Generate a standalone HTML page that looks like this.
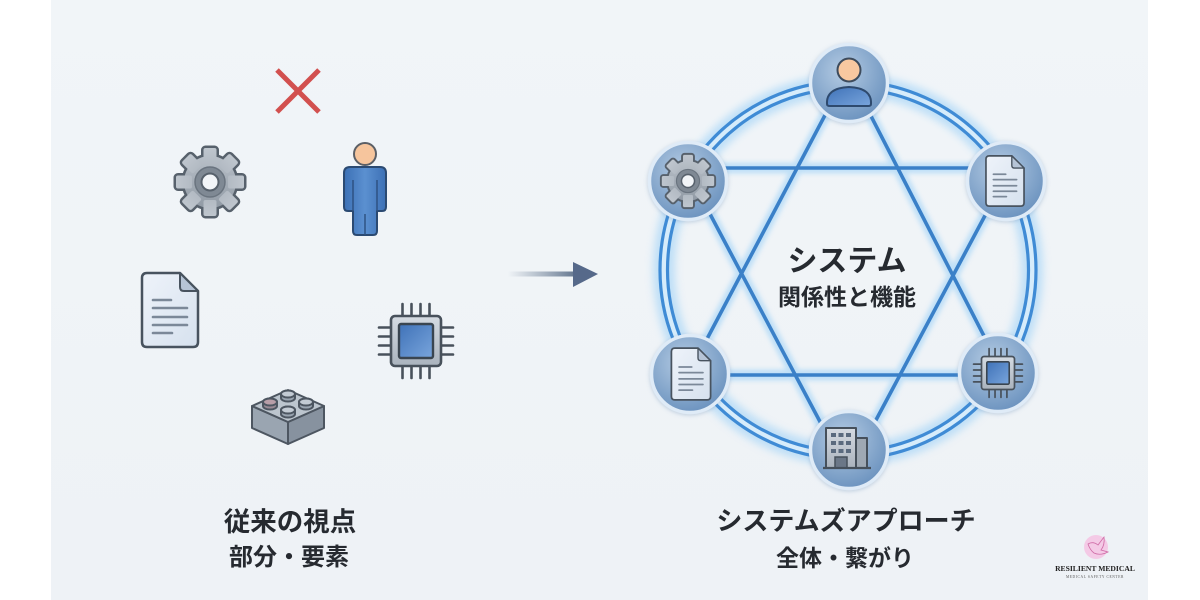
<!DOCTYPE html>
<html><head><meta charset="utf-8"><style>
html,body{margin:0;padding:0;background:#fff;}
svg{display:block;}
text{font-family:"Liberation Sans","Noto Sans CJK JP",sans-serif;}
</style></head><body>
<svg width="1200" height="600" viewBox="0 0 1200 600" xmlns="http://www.w3.org/2000/svg">
<defs>
  <linearGradient id="bg" x1="0" y1="0" x2="0" y2="1">
    <stop offset="0" stop-color="#f1f5f8"/><stop offset="1" stop-color="#eef2f6"/>
  </linearGradient>
  <radialGradient id="ng" cx="0.42" cy="0.35" r="0.7">
    <stop offset="0" stop-color="#b4cbe3"/><stop offset="1" stop-color="#6890bd"/>
  </radialGradient>
  <linearGradient id="gg" gradientUnits="userSpaceOnUse" x1="0" y1="-34" x2="0" y2="34">
    <stop offset="0" stop-color="#bfc6ce"/><stop offset="1" stop-color="#8a949f"/>
  </linearGradient>
  <linearGradient id="dg" x1="0" y1="0" x2="1" y2="1">
    <stop offset="0" stop-color="#eef3fa"/><stop offset="1" stop-color="#d6e1ee"/>
  </linearGradient>
  <linearGradient id="bl" x1="0" y1="0" x2="1" y2="1">
    <stop offset="0" stop-color="#3f72b8"/><stop offset="1" stop-color="#79a5dc"/>
  </linearGradient>
  <linearGradient id="pb" x1="0" y1="0" x2="1" y2="0">
    <stop offset="0" stop-color="#3c70b5"/><stop offset="0.5" stop-color="#5b90d0"/><stop offset="1" stop-color="#3c70b5"/>
  </linearGradient>
  <linearGradient id="ar" x1="508" y1="0" x2="580" y2="0" gradientUnits="userSpaceOnUse">
    <stop offset="0" stop-color="#6a7d94" stop-opacity="0"/><stop offset="1" stop-color="#5a6e88"/>
  </linearGradient>
  <linearGradient id="bd" x1="0" y1="0" x2="0" y2="1">
    <stop offset="0" stop-color="#d5dbe2"/><stop offset="1" stop-color="#aab3bd"/>
  </linearGradient>
  <filter id="blur4" x="-20%" y="-20%" width="140%" height="140%"><feGaussianBlur stdDeviation="4"/></filter>
  <filter id="blur2" x="-20%" y="-20%" width="140%" height="140%"><feGaussianBlur stdDeviation="2.5"/></filter>
  <filter id="ns" x="-30%" y="-30%" width="160%" height="160%">
    <feDropShadow dx="0" dy="1" stdDeviation="2" flood-color="#5d84b0" flood-opacity="0.35"/>
  </filter>

  <g id="gearI">
    <g fill="#57616c" stroke="#57616c" stroke-width="5" stroke-linejoin="round">
      <circle r="26"/>
      <rect x="-6.5" y="-34" width="13" height="16" rx="2"/>
      <rect x="-6.5" y="-34" width="13" height="16" rx="2" transform="rotate(45)"/>
      <rect x="-6.5" y="-34" width="13" height="16" rx="2" transform="rotate(90)"/>
      <rect x="-6.5" y="-34" width="13" height="16" rx="2" transform="rotate(135)"/>
      <rect x="-6.5" y="-34" width="13" height="16" rx="2" transform="rotate(180)"/>
      <rect x="-6.5" y="-34" width="13" height="16" rx="2" transform="rotate(225)"/>
      <rect x="-6.5" y="-34" width="13" height="16" rx="2" transform="rotate(270)"/>
      <rect x="-6.5" y="-34" width="13" height="16" rx="2" transform="rotate(315)"/>
    </g>
    <g fill="url(#gg)">
      <circle r="26"/>
      <rect x="-6.5" y="-34" width="13" height="16" rx="2"/>
      <rect x="-6.5" y="-34" width="13" height="16" rx="2" transform="rotate(45)"/>
      <rect x="-6.5" y="-34" width="13" height="16" rx="2" transform="rotate(90)"/>
      <rect x="-6.5" y="-34" width="13" height="16" rx="2" transform="rotate(135)"/>
      <rect x="-6.5" y="-34" width="13" height="16" rx="2" transform="rotate(180)"/>
      <rect x="-6.5" y="-34" width="13" height="16" rx="2" transform="rotate(225)"/>
      <rect x="-6.5" y="-34" width="13" height="16" rx="2" transform="rotate(270)"/>
      <rect x="-6.5" y="-34" width="13" height="16" rx="2" transform="rotate(315)"/>
    </g>
    <circle r="15" fill="#7f8994" stroke="#6a747f" stroke-width="1.5"/>
    <circle r="8.5" fill="#f2f5f8" stroke="#57616c" stroke-width="2"/>
  </g>

  <g id="docI">
    <path d="M -23 -37 H 10 L 28 -19 V 32 Q 28 37 23 37 H -23 Q -28 37 -28 32 V -32 Q -28 -37 -23 -37 Z" fill="url(#dg)" stroke="#48535f" stroke-width="2.5" stroke-linejoin="round"/>
    <path d="M 10 -37 V -23 Q 10 -19 14 -19 H 28 Z" fill="#b6c4d6" stroke="#48535f" stroke-width="2" stroke-linejoin="round"/>
    <g stroke="#7b8898" stroke-width="2.6" stroke-linecap="round">
      <line x1="-17" y1="-10" x2="1" y2="-10"/>
      <line x1="-17" y1="-2" x2="17" y2="-2"/>
      <line x1="-17" y1="7" x2="17" y2="7"/>
      <line x1="-17" y1="15" x2="17" y2="15"/>
      <line x1="-17" y1="23" x2="2" y2="23"/>
    </g>
  </g>

  <g id="chipI">
    <g stroke="#48515b" stroke-width="2.6" stroke-linecap="round">
      <line x1="-13.5" y1="-37" x2="-13.5" y2="-25"/><line x1="-4.5" y1="-37" x2="-4.5" y2="-25"/>
      <line x1="4.5" y1="-37" x2="4.5" y2="-25"/><line x1="13.5" y1="-37" x2="13.5" y2="-25"/>
      <line x1="-13.5" y1="25" x2="-13.5" y2="37"/><line x1="-4.5" y1="25" x2="-4.5" y2="37"/>
      <line x1="4.5" y1="25" x2="4.5" y2="37"/><line x1="13.5" y1="25" x2="13.5" y2="37"/>
      <line x1="-37" y1="-13.5" x2="-25" y2="-13.5"/><line x1="-37" y1="-4.5" x2="-25" y2="-4.5"/>
      <line x1="-37" y1="4.5" x2="-25" y2="4.5"/><line x1="-37" y1="13.5" x2="-25" y2="13.5"/>
      <line x1="25" y1="-13.5" x2="37" y2="-13.5"/><line x1="25" y1="-4.5" x2="37" y2="-4.5"/>
      <line x1="25" y1="4.5" x2="37" y2="4.5"/><line x1="25" y1="13.5" x2="37" y2="13.5"/>
    </g>
    <rect x="-25" y="-25" width="50" height="50" rx="4" fill="url(#bd)" stroke="#48515b" stroke-width="2.6"/>
    <rect x="-17" y="-17" width="34" height="34" rx="2" fill="url(#bl)" stroke="#3a4550" stroke-width="2.4"/>
  </g>
</defs>

<!-- background panel -->
<rect x="0" y="0" width="1200" height="600" fill="#ffffff"/>
<rect x="51" y="0" width="1097" height="600" fill="url(#bg)"/>

<!-- ===== LEFT: traditional view ===== -->
<g stroke="#d2504f" stroke-width="5" stroke-linecap="butt">
  <line x1="277" y1="70" x2="319" y2="112"/>
  <line x1="319" y1="70" x2="277" y2="112"/>
</g>
<use href="#gearI" transform="translate(210,182)"/>
<g>
  <path d="M 350 167 H 380 Q 386 167 386 173 V 207 Q 386 211 382 211 H 377 V 231 Q 377 235 373 235 H 357 Q 353 235 353 231 V 211 H 348 Q 344 211 344 207 V 173 Q 344 167 350 167 Z" fill="url(#pb)" stroke="#2b4a72" stroke-width="2" stroke-linejoin="round"/>
  <g stroke="#2e5283" stroke-width="1.5">
    <line x1="353" y1="180" x2="353" y2="211"/>
    <line x1="377" y1="180" x2="377" y2="211"/>
    <line x1="365" y1="214" x2="365" y2="235"/>
  </g>
  <circle cx="365" cy="154" r="11" fill="#f6c59d" stroke="#5b5f66" stroke-width="2"/>
</g>
<use href="#docI" transform="translate(170,310)"/>
<use href="#chipI" transform="translate(416,341)"/>
<g stroke="#4d5661" stroke-width="2" stroke-linejoin="round">
  <polygon points="252,406 288,422 288,444 252,428" fill="#9aa5b1"/>
  <polygon points="288,422 324,406 324,428 288,444" fill="#87929f"/>
  <polygon points="252,406 288,390 324,406 288,422" fill="#bcc5ce"/>
  <path d="M 281 398 V 394 A 7 3.5 0 0 1 295 394 V 398 A 7 3.5 0 0 1 281 398 Z" fill="#9aa5b1"/>
  <ellipse cx="288" cy="394" rx="7" ry="3.5" fill="#c3cbd4"/>
  <path d="M 263 406 V 402 A 7 3.5 0 0 1 277 402 V 406 A 7 3.5 0 0 1 263 406 Z" fill="#9a8a95"/>
  <ellipse cx="270" cy="402" rx="7" ry="3.5" fill="#b89ea8"/>
  <path d="M 299 406 V 402 A 7 3.5 0 0 1 313 402 V 406 A 7 3.5 0 0 1 299 406 Z" fill="#9aa5b1"/>
  <ellipse cx="306" cy="402" rx="7" ry="3.5" fill="#c3cbd4"/>
  <path d="M 281 414 V 410 A 7 3.5 0 0 1 295 410 V 414 A 7 3.5 0 0 1 281 414 Z" fill="#9aa5b1"/>
  <ellipse cx="288" cy="410" rx="7" ry="3.5" fill="#c3cbd4"/>
</g>

<!-- arrow -->
<rect x="508" y="271.5" width="68" height="5" fill="url(#ar)"/>
<polygon points="573,262 598,274 573,287" fill="#56698a"/>

<!-- ===== RIGHT: system approach ===== -->
<ellipse cx="848" cy="270" rx="184" ry="185" fill="none" stroke="#9fd2f7" stroke-width="22" opacity="0.6" filter="url(#blur4)"/>
<ellipse cx="848" cy="270" rx="184" ry="185" fill="none" stroke="#d6ecfb" stroke-width="7"/>
<ellipse cx="848" cy="270" rx="188" ry="189" fill="none" stroke="#3f8bd5" stroke-width="3.2"/>
<ellipse cx="848" cy="270" rx="180.5" ry="181.5" fill="none" stroke="#3f8bd5" stroke-width="3.2"/>

<g stroke="#9fd2f7" stroke-width="11" opacity="0.6" filter="url(#blur2)" stroke-linecap="round">
  <line x1="842" y1="83" x2="689" y2="373"/>
  <line x1="854" y1="83" x2="1003" y2="373"/>
  <line x1="690" y1="375" x2="998" y2="375"/>
  <line x1="688" y1="168" x2="1006" y2="168"/>
  <line x1="692" y1="180" x2="835" y2="450"/>
  <line x1="1004" y1="180" x2="860" y2="450"/>
</g>
<g stroke="#3a80c8" stroke-width="3.6">
  <line x1="842" y1="83" x2="689" y2="373"/>
  <line x1="854" y1="83" x2="1003" y2="373"/>
  <line x1="690" y1="375" x2="998" y2="375"/>
  <line x1="688" y1="168" x2="1006" y2="168"/>
  <line x1="692" y1="180" x2="835" y2="450"/>
  <line x1="1004" y1="180" x2="860" y2="450"/>
</g>

<g fill="url(#ng)" stroke="#dfebf7" stroke-width="3.5" filter="url(#ns)">
  <circle cx="849" cy="83" r="38.5"/>
  <circle cx="688" cy="181" r="38.5"/>
  <circle cx="1006" cy="181" r="38.5"/>
  <circle cx="690" cy="374" r="38.5"/>
  <circle cx="998" cy="373" r="38.5"/>
  <circle cx="849" cy="450" r="38.5"/>
</g>

<path d="M 827 104 Q 826 88 849 87 Q 872 88 871 104 Q 871 106 868 106 H 830 Q 827 106 827 104 Z" fill="url(#bl)" stroke="#2e4a6e" stroke-width="2" stroke-linejoin="round"/>
<circle cx="849" cy="70" r="11.5" fill="#f8c8a0" stroke="#3d4b5c" stroke-width="2"/>

<use href="#gearI" transform="translate(688,181) scale(0.77)"/>
<use href="#docI" transform="translate(1005,181) scale(0.68)"/>
<use href="#docI" transform="translate(691,374) scale(0.7)"/>
<use href="#chipI" transform="translate(998,373) scale(0.66)"/>

<g stroke="#46505b" stroke-width="2" stroke-linejoin="round">
  <rect x="856" y="438" width="11" height="30" fill="#9ea8b3"/>
  <rect x="826" y="428" width="30" height="40" fill="url(#bd)"/>
</g>
<g fill="#5a6a7e">
  <rect x="831" y="433" width="5" height="4"/><rect x="838.5" y="433" width="5" height="4"/><rect x="846" y="433" width="5" height="4"/>
  <rect x="831" y="441" width="5" height="4"/><rect x="838.5" y="441" width="5" height="4"/><rect x="846" y="441" width="5" height="4"/>
  <rect x="831" y="449" width="5" height="4"/><rect x="838.5" y="449" width="5" height="4"/><rect x="846" y="449" width="5" height="4"/>
</g>
<rect x="835" y="457" width="12" height="11" fill="#6b7787" stroke="#46505b" stroke-width="1.5"/>
<line x1="823" y1="468" x2="871" y2="468" stroke="#46505b" stroke-width="2.2"/>

<text x="847" y="271" text-anchor="middle" font-size="30" font-weight="700" fill="#262a30">システム</text>
<text x="847" y="305" text-anchor="middle" font-size="23" font-weight="700" fill="#262a30">関係性と機能</text>

<text x="290" y="531" text-anchor="middle" font-size="26.5" font-weight="700" fill="#262a30">従来の視点</text>
<text x="289" y="565" text-anchor="middle" font-size="24" font-weight="700" fill="#262a30">部分・要素</text>
<text x="846" y="530" text-anchor="middle" font-size="26" font-weight="700" fill="#262a30">システムズアプローチ</text>
<text x="845" y="566" text-anchor="middle" font-size="23" font-weight="700" fill="#262a30">全体・繋がり</text>

<circle cx="1096" cy="547" r="12" fill="#f5c3e3" opacity="0.85"/>
<path d="M 1088 544 Q 1093 541 1098 545 L 1104 537 Q 1105 545 1101 550 L 1108 552 Q 1100 556 1094 553 Q 1090 550 1088 544 Z" fill="none" stroke="#cf6aa6" stroke-width="0.8"/>
<text x="1095" y="571" text-anchor="middle" font-size="7.6" font-weight="700" fill="#222" style="font-family:'Liberation Serif',serif">RESILIENT MEDICAL</text>
<text x="1095" y="578" text-anchor="middle" font-size="3.6" fill="#555" letter-spacing="0.6" style="font-family:'Liberation Serif',serif">MEDICAL SAFETY CENTER</text>
</svg>
</body></html>
